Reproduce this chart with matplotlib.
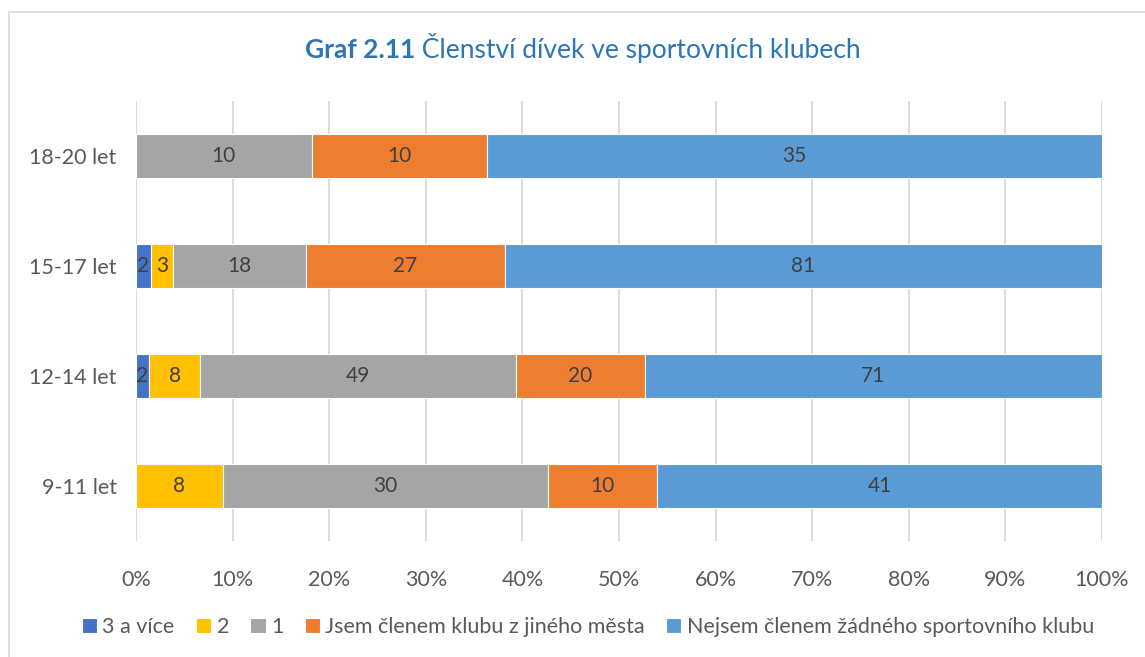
import matplotlib
matplotlib.use("Agg")
import matplotlib.pyplot as plt
from matplotlib.patches import Rectangle
import numpy as np

categories = ["9-11 let", "12-14 let", "15-17 let", "18-20 let"]
series_names = ["3 a více", "2", "1", "Jsem členem klubu z jiného města",
                "Nejsem členem žádného sportovního klubu"]
v_3plus = [0, 2, 2, 0]
v_2 = [8, 8, 3, 0]
v_1 = [30, 49, 18, 10]
v_jiny = [10, 20, 27, 10]
v_zadny = [41, 71, 81, 35]
colors = ["#4472C4", "#FFC000", "#A5A5A5", "#ED7D31", "#5B9BD5"]

plt.rcParams['font.family'] = ['Lato', 'DejaVu Sans']

W, H = 1145, 657
fig = plt.figure(figsize=(W / 100, H / 100), dpi=100)
ax = fig.add_axes([136 / W, 1 - 541 / H, (1102 - 136) / W, 440 / H])

data = np.array([v_3plus, v_2, v_1, v_jiny, v_zadny], dtype=float)
totals = data.sum(axis=0)
pct = data / totals * 100
y = np.arange(len(categories))
left = np.zeros(len(categories))
for i, name in enumerate(series_names):
    ax.barh(y, pct[i], left=left, height=0.4, color=colors[i],
            edgecolor="white", linewidth=0.8, label=name, zorder=3)
    for j in range(len(categories)):
        if data[i, j] > 0:
            ax.text(left[j] + pct[i, j] / 2, y[j], f"{int(data[i, j])}",
                    ha="center", va="center", fontsize=15, color="#404040", zorder=4)
    left += pct[i]

ax.set_xlim(0, 100)
ax.set_ylim(-0.5, 3.5)
ax.set_xticks(np.arange(0, 101, 10))
ax.set_xticklabels([f"{t}%" for t in range(0, 101, 10)])
ax.set_yticks(y)
ax.set_yticklabels(categories)
ax.tick_params(axis="both", length=0, labelsize=15.5, labelcolor="#595959")
ax.tick_params(axis="x", pad=21)
ax.tick_params(axis="y", pad=14)
ax.grid(axis="x", color="#D9D9D9", linewidth=1.3, zorder=0)
for s in ax.spines.values():
    s.set_visible(False)

title_bold = "Graf 2.11"
title_rest = " Členství dívek ve sportovních klubech"
renderer = fig.canvas.get_renderer()
ty = 1 - 58 / H
tb = fig.text(0, ty, title_bold, fontsize=19, fontweight="bold",
              color="#2E75B6", va="baseline")
tr = fig.text(0, ty, title_rest, fontsize=19, color="#2E75B6", va="baseline")
wb = tb.get_window_extent(renderer).width
wr = tr.get_window_extent(renderer).width
x0 = (583 - (wb + wr) / 2) / W
tb.set_x(x0)
tr.set_x(x0 + wb / W)

fig.legend(loc="center", bbox_to_anchor=(588 / W, 1 - 627 / H), ncol=5,
           frameon=False, fontsize=15.5, handlelength=0.7, handleheight=0.7,
           handletextpad=0.25, columnspacing=1.0, labelcolor="#595959")

fig.patches.append(Rectangle((9 / W, -0.1), 1.2, 1 - 12 / H + 0.1,
                             transform=fig.transFigure, fill=False,
                             edgecolor="#D9D9D9", linewidth=1.2))

fig.savefig("out.png", dpi=100)
